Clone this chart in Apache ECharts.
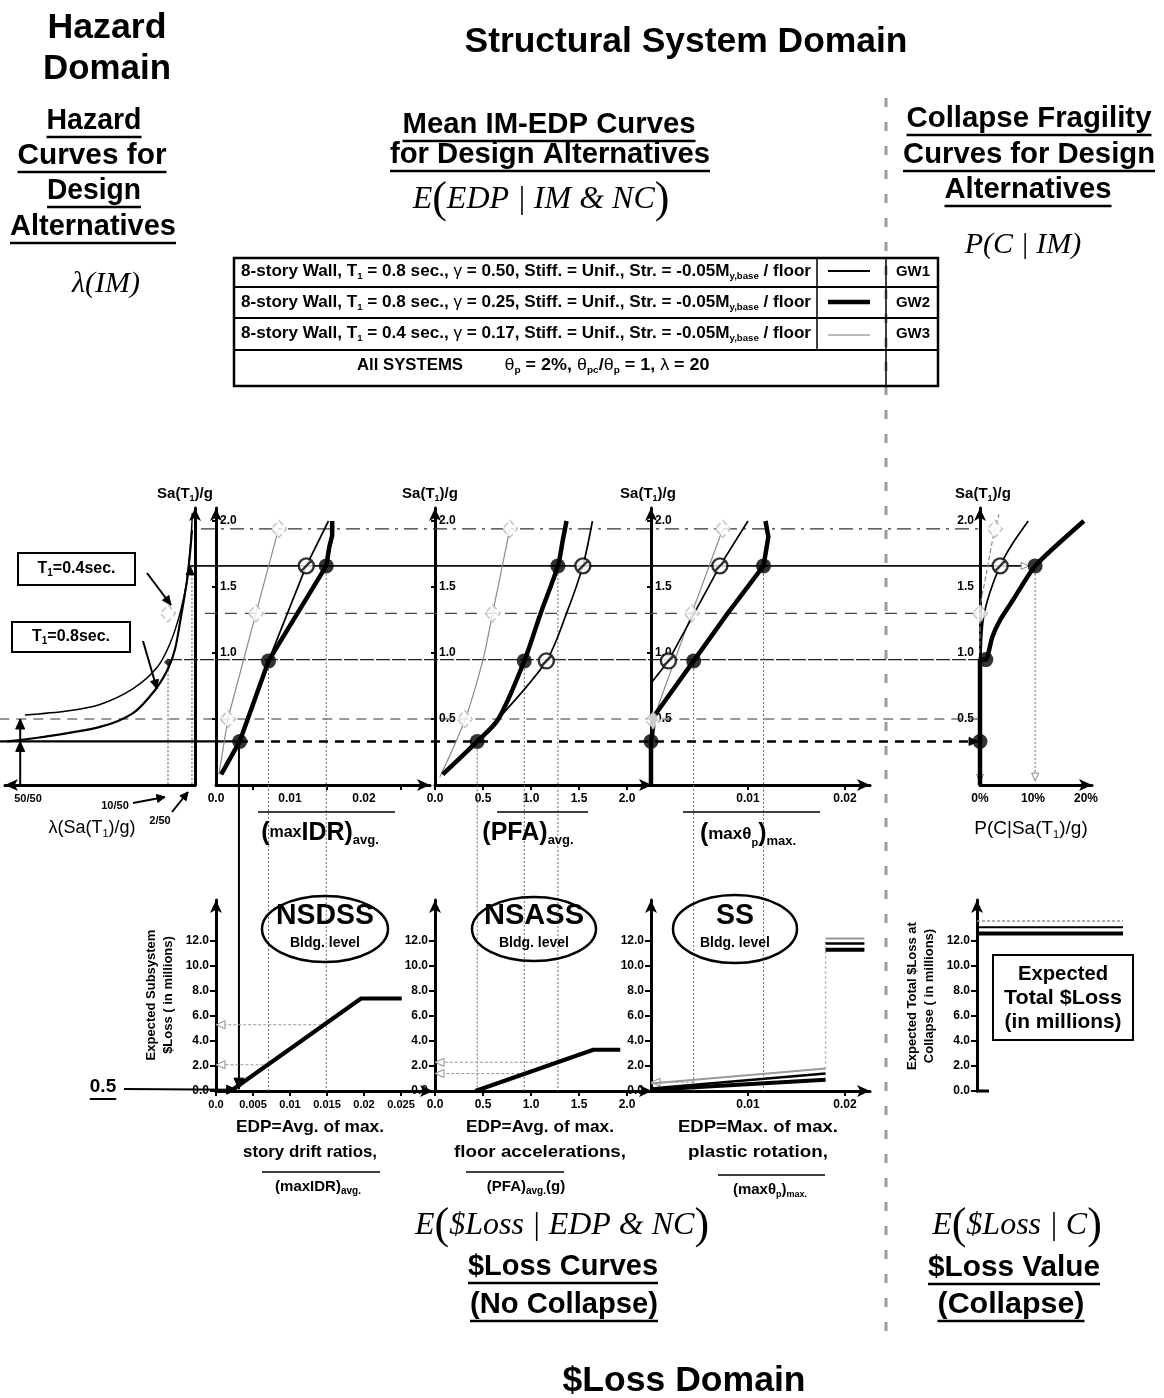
<!DOCTYPE html>
<html><head><meta charset="utf-8">
<script src="https://cdn.jsdelivr.net/npm/echarts@6/dist/echarts.min.js"></script>
<style>html,body{margin:0;padding:0;background:#fff}#c{width:1164px;height:1398px}</style>
</head><body><div id="c"></div>
<script>
// ================= DATA =================
// Hazard curves: x = normalised annual frequency lambda (0 at axis, 1 at far left), y = Sa(T1)/g
const hazT04 = [[0.895,0.53],[0.674,0.56],[0.5,0.61],[0.326,0.73],[0.2,0.89],[0.132,1.07],[0.079,1.30],[0.042,1.55],[0.021,1.86],[0.014,2.06]];
const hazT08 = [[0.99,0.33],[0.82,0.36],[0.5,0.44],[0.326,0.545],[0.21,0.72],[0.142,0.88],[0.105,1.03],[0.079,1.23],[0.042,1.55],[0.026,1.76],[0.016,1.93]];
const hazBlackPts = [[0.142,0.93]];
const hazGrayPts = [[0.142,1.30]];

// IM-EDP: (maxIDR)avg
const idrGW1 = [[0.0007,0.08],[0.0032,0.33],[0.0071,0.94],[0.0122,1.66],[0.0152,2.0]];
const idrGW2 = [[0.0007,0.08],[0.0032,0.33],[0.0071,0.94],[0.0149,1.66],[0.0153,1.80],[0.0157,1.89],[0.0157,2.0]];
const idrGW3 = [[0.0004,0.08],[0.0016,0.5],[0.0054,1.30],[0.0085,1.95]];
const idrGW1Pts = [[0.0122,1.66]];
const idrGW2Pts = [[0.0032,0.33],[0.0071,0.94],[0.0149,1.66]];
const idrGW3Pts = [[0.0016,0.5],[0.0054,1.30],[0.0085,1.94]];

// IM-EDP: (PFA)avg
const pfaGW1 = [[0.08,0.08],[0.44,0.33],[0.66,0.5],[1.16,0.94],[1.37,1.3],[1.54,1.66],[1.64,2.0]];
const pfaGW2 = [[0.08,0.08],[0.44,0.33],[0.66,0.5],[0.93,0.94],[1.10,1.3],[1.28,1.66],[1.33,1.85],[1.37,2.0]];
const pfaGW3 = [[0.05,0.06],[0.31,0.49],[0.50,0.95],[0.60,1.30],[0.78,1.94]];
const pfaGW1Pts = [[1.16,0.94],[1.54,1.66]];
const pfaGW2Pts = [[0.44,0.33],[0.93,0.94],[1.28,1.66]];
const pfaGW3Pts = [[0.31,0.5],[0.60,1.30],[0.78,1.94]];

// IM-EDP: (max theta_p)max
const thGW1 = [[0.0001,0.78],[0.0018,0.94],[0.0071,1.66],[0.0100,2.0]];
const thGW2 = [[0,0],[0,0.33],[0.0004,0.53],[0.0044,0.94],[0.0079,1.30],[0.0116,1.66],[0.0121,1.88],[0.0118,2.0]];
const thGW3 = [[0.0002,0.49],[0.0042,1.30],[0.0074,1.94]];
const thGW1Pts = [[0.0018,0.94],[0.0071,1.66]];
const thGW2Pts = [[0,0.33],[0.0044,0.94],[0.0116,1.66]];
const thGW3Pts = [[0.0002,0.49],[0.0042,1.30],[0.0074,1.94]];

// Collapse fragility: x = P(C|Sa) in %
const frGW1 = [[0.2,1.0],[0.6,1.25],[1.8,1.45],[3.8,1.66],[6.0,1.82],[9.1,2.0]];
const frGW2 = [[0,0],[0,0.95],[1.1,0.95],[2.3,1.12],[3.8,1.25],[6.2,1.40],[10.4,1.66],[19.6,2.0]];
const frGW3 = [[0,1.0],[0,1.3],[1.2,1.6],[2.8,1.94],[3.6,2.05]];
const frGW1Pts = [[3.8,1.66]];
const frGW2Pts = [[0,0.33],[1.1,0.95],[10.4,1.66]];
const frGW3Pts = [[0,1.30],[2.8,1.94]];

// $Loss curves (no collapse), loss in millions
const lossIDR = [[0.002,0],[0.0196,7.4],[0.0251,7.4]];
const lossPFA = [[0.42,0],[1.65,3.3],[1.93,3.3]];
const lossThGW1 = [[0,0.2],[0.018,1.4]];
const lossThGW2 = [[0,0.1],[0.018,0.9]];
const lossThGW3 = [[0,0.6],[0.018,1.8]];
const ssColGW1 = [[0.018,11.8],[0.022,11.8]];
const ssColGW2 = [[0.018,11.3],[0.022,11.3]];
const ssColGW3 = [[0.018,12.2],[0.022,12.2]];
const ssJump = [[0.018,1.8],[0.018,12.2]];
// $Loss value at collapse
const colGW1 = [[0,13.1],[1,13.1]];
const colGW2 = [[0,12.6],[1,12.6]];
const colGW3 = [[0,13.6],[1,13.6]];

// Guide levels
const saLevels = [0.33, 0.5, 0.95, 1.3, 1.66, 1.94];
const idrDrop = [0.0071, 0.0149], idrDropSa = [0.94, 1.66], idrLoss = [2.1, 5.3];
const pfaDrop = [0.44, 0.93, 1.28], pfaDropSa = [0.33, 0.94, 1.66], pfaLoss = [null, 1.4, 2.3];
const thDrop = [0.0044, 0.0116], thDropSa = [0.94, 1.66], thLoss = [0.7, null];
const fragDrop = 10.4;
const hazDrop = [0.142, 0.016], hazDropSa = [0.93, 1.66];
const idrStart = 0.0031;

// Tick labels
const idrTicks = [0, 0.01, 0.02], idrMinor = [0.005, 0.015, 0.025];
const pfaTicks = [0, 0.5, 1.0, 1.5, 2.0];
const thTicks = [0.01, 0.02];
const frTicks = [0, 10, 20];
const lossIdrTicks = [0, 0.005, 0.01, 0.015, 0.02, 0.025];
const saTicks = [0.5, 1.0, 1.5, 2.0];
const lossTicks = [0, 2, 4, 6, 8, 10, 12];

// ================= CHART =================
const FF = "'Liberation Sans', Arial, Helvetica, sans-serif";
const SERIF = "'Liberation Serif', 'Times New Roman', serif";
const chart = echarts.init(document.getElementById('c'), null, {renderer:'canvas', width:1164, height:1398});

const cv = document.createElement('canvas').getContext('2d');
function mw(t, f){ cv.font = f; return cv.measureText(t).width; }

const SA_MAX = 277/132, LOSS_MAX = 191/12.5;
const labStyle = {color:'#000', fontFamily:FF, fontWeight:'bold', fontSize:12};
function aLine(arrow, show){ return {show: show!==false, onZero:false, symbol: arrow||'none', symbolSize:[9,13], lineStyle:{color:'#000', width:3}}; }
const ARR = ['none','arrow'];
function ax(i, min, max, o){
  return Object.assign({type:'value', gridIndex:i, min, max, splitLine:{show:false}, axisLine:aLine(ARR),
    axisTick:{show:false}, axisLabel:{show:false}}, o||{});
}
function lab(vals, fmt, o){ return Object.assign({show:true, customValues:vals, formatter:fmt, margin:8}, labStyle, o||{}); }
function tick(vals, len){ return {show:true, customValues:vals, length:len||5, lineStyle:{color:'#000', width:2}}; }
const f1 = v => (+v).toFixed(1);

const grids = [
  {left:5,   top:508, width:190, height:277},
  {left:216, top:508, width:214, height:277},
  {left:435, top:508, width:217, height:277},
  {left:651, top:508, width:219, height:277},
  {left:980, top:508, width:112, height:277},
  {left:216, top:900, width:217, height:191},
  {left:435, top:900, width:217, height:191},
  {left:651, top:900, width:219, height:191},
  {left:977, top:900, width:146, height:191}
];

const xAxis = [
  ax(0, 0, 1, {inverse:true, axisLine:aLine(['arrow','none'])}),
  ax(1, 0, 214/7400, {axisLabel:lab(idrTicks, v=>v==0?'0.0':String(v)), axisTick:tick(idrMinor)}),
  ax(2, 0, 217/96, {axisLabel:lab(pfaTicks, f1), axisTick:tick(pfaTicks)}),
  ax(3, 0, 219/9700, {axisLabel:lab(thTicks, v=>String(v)), axisTick:tick(thTicks)}),
  ax(4, 0, 112/5.3, {axisLabel:lab(frTicks, v=>v+'%')}),
  ax(5, 0, 217/7400, {axisLabel:lab(lossIdrTicks, v=>v==0?'0.0':String(v), {fontSize:11}), axisTick:tick(lossIdrTicks)}),
  ax(6, 0, 217/96, {axisLabel:lab(pfaTicks, f1), axisTick:tick(pfaTicks)}),
  ax(7, 0, 219/9700, {axisLabel:lab(thTicks, v=>String(v)), axisTick:tick(thTicks)}),
  ax(8, 0, 1, {axisLine:aLine('none', false)})
];
const yAxis = [
  ax(0, 0, SA_MAX, {position:'right'}),
  ax(1, 0, SA_MAX, {axisLabel:lab([1.0,1.5,2.0], f1, {inside:true, margin:4}), axisTick:tick(saTicks, 4)}),
  ax(2, 0, SA_MAX, {axisLabel:lab(saTicks, f1, {inside:true, margin:4}), axisTick:tick(saTicks, 4)}),
  ax(3, 0, SA_MAX, {axisLabel:lab(saTicks, f1, {inside:true, margin:4}), axisTick:tick(saTicks, 4)}),
  ax(4, 0, SA_MAX, {axisLabel:lab(saTicks, f1, {margin:6})}),
  ax(5, 0, LOSS_MAX, {axisLabel:lab(lossTicks, f1, {margin:7}), axisTick:tick(lossTicks, 6)}),
  ax(6, 0, LOSS_MAX, {axisLabel:lab(lossTicks, f1, {margin:7}), axisTick:tick(lossTicks, 6)}),
  ax(7, 0, LOSS_MAX, {axisLabel:lab(lossTicks, f1, {margin:7}), axisTick:tick(lossTicks, 6)}),
  ax(8, 0, LOSS_MAX, {axisLabel:lab(lossTicks, f1, {margin:7}), axisTick:tick(lossTicks, 6)})
];

const S1 = {color:'#000', width:1.7};
const S2 = {color:'#000', width:4.5};
const S3 = {color:'#8a8a8a', width:1.2};
function ln(i, data, sty, o){
  return Object.assign({type:'line', xAxisIndex:i, yAxisIndex:i, data, symbol:'none', showSymbol:false,
    lineStyle:sty, silent:true, clip:false, z:3, animation:false}, o||{});
}
const SM = {smooth:0.3};
const SLASH = 'path://M50,4A46,46,0,1,1,49.9,4ZM20,80L80,20';
function pts(i, data, kind){
  const m = {
    1:{symbol:SLASH, symbolSize:15, itemStyle:{color:'#fff', borderColor:'#000', borderWidth:2.4}},
    2:{symbol:'circle', symbolSize:15, itemStyle:{color:'#000'}},
    3:{symbol:'diamond', symbolSize:[15,17], itemStyle:{color:'#fff', borderColor:'#b5b5b5', borderWidth:1.5, borderType:'dashed'}},
    4:{symbol:'diamond', symbolSize:8, itemStyle:{color:'#000'}}
  }[kind];
  return Object.assign({type:'scatter', xAxisIndex:i, yAxisIndex:i, data, silent:true, z:5, animation:false, clip:false}, m);
}

const series = [
  ln(0, hazT04, {color:'#000', width:1.5}, SM),
  ln(0, hazT08, {color:'#000', width:2.2}, SM),
  pts(0, hazBlackPts, 4), pts(0, hazGrayPts, 3),

  ln(1, idrGW3, S3), ln(1, idrGW1, S1), ln(1, idrGW2, S2),
  pts(1, idrGW3Pts, 3), pts(1, idrGW1Pts, 1), pts(1, idrGW2Pts, 2),

  ln(2, pfaGW3, S3, SM), ln(2, pfaGW1, S1, SM), ln(2, pfaGW2, S2, SM),
  pts(2, pfaGW3Pts, 3), pts(2, pfaGW1Pts, 1), pts(2, pfaGW2Pts, 2),

  ln(3, thGW3, S3), ln(3, thGW1, S1), ln(3, thGW2, S2),
  pts(3, thGW3Pts, 3), pts(3, thGW1Pts, 1), pts(3, thGW2Pts, 2),

  ln(4, frGW3, Object.assign({type:'dashed'}, S3), SM), ln(4, frGW1, S1, SM), ln(4, frGW2, S2, {smooth:0.2}),
  pts(4, frGW3Pts, 3), pts(4, frGW1Pts, 1), pts(4, frGW2Pts, 2),

  ln(5, lossIDR, {color:'#000', width:4}),
  ln(6, lossPFA, {color:'#000', width:4}),
  ln(7, lossThGW3, {color:'#999', width:2}), ln(7, lossThGW1, {color:'#000', width:2.5}), ln(7, lossThGW2, {color:'#000', width:4}),
  ln(7, ssJump, {color:'#aaa', width:1.5, type:[2,3]}),
  ln(7, ssColGW3, {color:'#999', width:2}), ln(7, ssColGW1, {color:'#000', width:2.5}), ln(7, ssColGW2, {color:'#000', width:4}),
  ln(8, colGW3, {color:'#999', width:1.5, type:[3,2]}), ln(8, colGW1, {color:'#000', width:2}), ln(8, colGW2, {color:'#000', width:4})
];

chart.setOption({animation:false, backgroundColor:'#fff', grid:grids, xAxis, yAxis, series});

// ================= ANNOTATIONS =================
const G = [];
const P = (i, x, y) => chart.convertToPixel({gridIndex:i}, [x, y]);
function L(p1, p2, st, z){ G.push({type:'line', silent:true, z:z==null?1:z, shape:{x1:p1[0], y1:p1[1], x2:p2[0], y2:p2[1]}, style:Object.assign({stroke:'#000', lineWidth:1}, st||{})}); }
function head(p1, p2, o){
  o = o||{}; const len=o.len||10, w=o.w||4.5;
  const dx=p2[0]-p1[0], dy=p2[1]-p1[1], d=Math.hypot(dx,dy)||1, ux=dx/d, uy=dy/d;
  const bx=p2[0]-ux*len, by=p2[1]-uy*len;
  G.push({type:'polygon', silent:true, z:o.z||2, shape:{points:[[p2[0],p2[1]],[bx-uy*w,by+ux*w],[bx+uy*w,by-ux*w]]},
    style:{fill:o.fill||'#000', stroke:o.stroke||'#000', lineWidth:o.lw||1}});
}
function arrow(p1, p2, st, o){ L(p1, p2, st, 2); head(p1, p2, o); }
function txt(text, cx, cy, font, o){
  o = o||{};
  const st = {text, fill:o.fill||'#000', align:o.align||'center', verticalAlign:'middle', textAlign:o.align||'center', textVerticalAlign:'middle'};
  if (font) st.font = font;
  if (o.rich) st.rich = o.rich;
  const el = {type:'text', x:cx, y:cy, silent:true, z:o.z||10, style:st};
  let w = o.mw!=null ? o.mw : mw(text, font);
  if (o.w){ el.scaleX = o.w / w; w = o.w; }
  if (o.rot) el.rotation = o.rot;
  G.push(el);
  if (o.ul) L([cx-w/2, cy+o.ul], [cx+w/2, cy+o.ul], {lineWidth:o.ulw||2.5}, 10);
}
function rich(parts, cx, cy, base, o){
  let s='', w=0; const r={};
  for (const k in base){ const b=base[k];
    r[k] = {fontSize:b.size, fontWeight:b.weight||'bold', fontStyle:b.style||'normal', fontFamily:b.family||FF,
      verticalAlign:b.sub?'bottom':'middle', fill:b.fill||'#000'};
    if (b.lh) r[k].lineHeight = b.lh;
  }
  parts.forEach(([t,k]) => { s += '{'+k+'|'+t+'}'; const b=base[k];
    w += mw(t, (b.style||'normal')+' '+(b.weight||'bold')+' '+b.size+'px '+(b.family||FF)); });
  txt(s, cx, cy, null, Object.assign({}, o||{}, {rich:r, mw:w}));
}
const B = s => 'bold '+s+'px '+FF;

// ---- headings ----
txt('Hazard', 107, 28, B(35), {w:119});
txt('Domain', 107, 69, B(35), {w:128});
txt('Structural System Domain', 686, 42, B(35), {w:443});
[['Hazard',94,121,95],['Curves for',92,156,149],['Design',94,191,94],['Alternatives',93,227,166]].forEach(a=>txt(a[0],a[1],a[2],B(30),{w:a[3],ul:16}));
txt('Mean IM-EDP Curves', 549, 125, B(30), {w:293, ul:16});
txt('for Design Alternatives', 550, 155, B(30), {w:320, ul:16});
txt('Collapse Fragility', 1029, 119, B(30), {w:245, ul:16});
txt('Curves for Design', 1029, 155, B(30), {w:252, ul:16});
txt('Alternatives', 1028, 190, B(30), {w:167, ul:16});
const IT = {size:32, weight:'normal', style:'italic', family:SERIF}, PAR = {size:44, weight:'normal', family:SERIF};
rich([['λ','it'],['(','it'],['IM','it'],[')','it']], 106, 284, {it:{size:30, weight:'normal', style:'italic', family:SERIF}});
rich([['E','it'],['(','p'],['EDP | IM & NC','it'],[')','p']], 541, 200, {it:IT, p:PAR});
rich([['P(C | IM)','it']], 1023, 245, {it:{size:30, weight:'normal', style:'italic', family:SERIF}});
rich([['E','it'],['(','p'],['$Loss | EDP & NC','it'],[')','p']], 562, 1226, {it:IT, p:PAR});
rich([['E','it'],['(','p'],['$Loss | C','it'],[')','p']], 1017, 1226, {it:IT, p:PAR});
txt('$Loss Curves', 563, 1267, B(30), {w:190, ul:16});
txt('(No Collapse)', 564, 1305, B(30), {w:188, ul:16});
txt('$Loss Value', 1014, 1268, B(30), {w:172, ul:16});
txt('(Collapse)', 1011, 1305, B(30), {w:147, ul:16});
txt('$Loss Domain', 684, 1381, B(35), {w:243});

// ---- separator ----
L([886, 98], [886, 1342], {stroke:'#9a9a9a', lineWidth:3, lineDash:[9,15]}, 0);

// ---- legend table ----
G.push({type:'rect', silent:true, z:8, shape:{x:234, y:258, width:704, height:128}, style:{fill:'none', stroke:'#000', lineWidth:2.5}});
[287, 318, 350].forEach(y => L([234,y],[938,y],{lineWidth:2},8));
L([817,258],[817,350],{lineWidth:1.5},8);
L([886,258],[886,386],{lineWidth:1.5},8);
const LB = {b:{size:16, lh:18}, s:{size:9, sub:true}, g:{size:16, weight:'normal', lh:18}, n:{size:16, weight:'normal', lh:18}};
const rowY = [272, 303, 334];
const rowT = ['0.8','0.8','0.4'], rowG = ['0.50','0.25','0.17'];
rowY.forEach((y,k) => {
  rich([['8-story Wall, T','b'],['1','s'],[' = '+rowT[k]+' sec., ','b'],['γ','g'],[' = '+rowG[k]+', Stiff. = Unif., Str. = -0.05M','b'],['y,base','s'],[' / floor','b']],
    526, y, LB, {w:570});
  txt('GW'+(k+1), 913, y, B(15));
});
L([828,271],[870,271],{lineWidth:1.8},9);
L([828,302],[870,302],{lineWidth:4.5},9);
L([828,335],[870,335],{lineWidth:1, stroke:'#777'},9);
txt('All SYSTEMS', 410, 366, B(16), {w:106});
rich([['θ','n'],['p','s'],[' = 2%, ','b'],['θ','n'],['pc','s'],['/','b'],['θ','n'],['p','s'],[' = 1, ','b'],['λ','n'],[' = 20','b']], 607, 366, LB, {w:205});

// ---- axis titles ----
const SAB = {b:{size:15, lh:18}, s:{size:9, sub:true}};
[185, 430, 648, 983].forEach(x => rich([['Sa(T','b'],['1','s'],[')/g','b']], x, 494, SAB));
const BIG = {B:{size:25, lh:28}, m:{size:16, lh:28}, s:{size:13, sub:true}, m2:{size:17, lh:28}, p:{size:11, sub:true}};
rich([['(','B'],['max','m'],['IDR)','B'],['avg.','s']], 320, 833, BIG);
L([258,812],[395,812],{lineWidth:1.5},10);
rich([['(PFA)','B'],['avg.','s']], 528, 833, BIG);
L([497,812],[588,812],{lineWidth:1.5},10);
rich([['(','B'],['maxθ','m2'],['p','p'],[')','B'],['max.','s']], 748, 834, BIG);
L([683,812],[820,812],{lineWidth:1.5},10);
rich([['P(C|Sa(T','n'],['1','s'],[')/g)','n']], 1031, 829, {n:{size:19, weight:'normal', lh:22}, s:{size:11, weight:'normal', sub:true}});
rich([['λ(Sa(T','n'],['1','s'],[')/g)','n']], 92, 828, {n:{size:18, weight:'normal', lh:22}, s:{size:11, weight:'normal', sub:true}});
txt('50/50', 28, 799, B(11));
txt('10/50', 115, 806, B(11));
txt('2/50', 160, 821, B(11));
arrow([133,803],[165,797],{lineWidth:2},{len:8,w:4});
arrow([172,812],[188,792],{lineWidth:2},{len:8,w:4});

// T1 boxes
[[18,553,117,32,'0.4'],[12,622,118,30,'0.8']].forEach(b => {
  G.push({type:'rect', silent:true, z:8, shape:{x:b[0], y:b[1], width:b[2], height:b[3]}, style:{fill:'#fff', stroke:'#000', lineWidth:2}});
  rich([['T','b'],['1','s'],['='+b[4]+'sec.','b']], b[0]+b[2]/2, b[1]+b[3]/2, {b:{size:16, lh:18}, s:{size:10, sub:true}});
});
arrow([147,573],[171,605],{lineWidth:2},{len:9,w:4});
arrow([143,641],[157,689],{lineWidth:2},{len:9,w:4});

// lower EDP labels
const EB = B(17);
txt('EDP=Avg. of max.', 310, 1127, EB, {w:148});
txt('story drift ratios,', 310, 1152, EB, {w:134});
rich([['(maxIDR)','b'],['avg.','s']], 318, 1187, {b:{size:15, lh:18}, s:{size:10, sub:true}});
L([262,1172],[380,1172],{lineWidth:1.5},10);
txt('EDP=Avg. of max.', 540, 1127, EB, {w:148});
txt('floor accelerations,', 540, 1152, EB, {w:172});
rich([['(PFA)','b'],['avg.','s'],['(g)','b']], 526, 1187, {b:{size:15, lh:18}, s:{size:10, sub:true}});
L([466,1172],[564,1172],{lineWidth:1.5},10);
txt('EDP=Max. of max.', 758, 1127, EB, {w:160});
txt('plastic rotation,', 758, 1152, EB, {w:140});
rich([['(maxθ','b'],['p','s'],[')','b'],['max.','s']], 770, 1190, {b:{size:15, lh:18}, s:{size:9, sub:true}});
L([718,1175],[825,1175],{lineWidth:1.5},10);

// rotated y titles
txt('Expected Subsystem', 151, 995, B(13), {rot:Math.PI/2});
txt('$Loss ( in millions)', 168, 995, B(13), {rot:Math.PI/2});
txt('Expected Total $Loss at', 912, 996, B(13), {rot:Math.PI/2});
txt('Collapse ( in millions)', 929, 996, B(13), {rot:Math.PI/2});
G.push({type:'rect', silent:true, z:8, shape:{x:993, y:955, width:140, height:85}, style:{fill:'#fff', stroke:'#000', lineWidth:2}});
txt('Expected', 1063, 974, B(21), {w:90});
txt('Total $Loss', 1063, 998, B(21), {w:118});
txt('(in millions)', 1063, 1022, B(21), {w:117});
// x axis stub of collapse panel
const c0 = P(8, 0, 0);
L([c0[0]-1, c0[1]], [c0[0]+12, c0[1]], {lineWidth:3}, 4);

// ellipses
[[325,'NSDSS',98,63,33],[534,'NSASS',100,62,32],[735,'SS',38,62,34]].forEach(e => {
  G.push({type:'ellipse', silent:true, z:6, shape:{cx:e[0], cy:929, rx:e[3], ry:e[4]}, style:{fill:'none', stroke:'#000', lineWidth:2.5}});
  txt(e[1], e[0], 916, B(29), {w:e[2]});
  txt('Bldg. level', e[0], 943, B(14));
});

// "0.5" marker
txt('0.5', 103, 1087, B(19), {ul:12, ulw:2});
arrow([124,1089], P(5, idrStart*0.9, 0.1), {lineWidth:2}, {len:10,w:4.5});

// ---- Sa guide lines across panels ----
const leftEdge = P(0, 1.03, 0)[0], fr0 = P(4, 0, 0)[0];
const Y = sa => P(1, 0, sa)[1];
L([leftEdge, Y(saLevels[0])], [P(1, idrStart, 0)[0], Y(saLevels[0])], {lineWidth:2.2}, 1);
arrow([P(1, idrStart, 0)[0], Y(saLevels[0])], [fr0-2, Y(saLevels[0])], {lineWidth:2.5, lineDash:[9,7]}, {len:9, w:4});
L([leftEdge, Y(saLevels[1])], [fr0, Y(saLevels[1])], {lineWidth:1, stroke:'#333', lineDash:[10,7]}, 1);
L([P(0, hazDrop[0], 0)[0], Y(saLevels[2])], [fr0, Y(saLevels[2])], {lineWidth:1.4, stroke:'#222', lineDash:[14,2]}, 1);
L([P(0, 0, 0)[0]+10, Y(saLevels[3])], [fr0, Y(saLevels[3])], {lineWidth:1.2, stroke:'#444', lineDash:[12,8]}, 1);
arrow([P(0, 0.026, 0)[0], Y(saLevels[4])], [P(4, fragDrop, 0)[0]-6, Y(saLevels[4])], {lineWidth:1.6, stroke:'#111'}, {len:8, w:3.5, fill:'#fff', stroke:'#888'});
L([P(0, 0, 0)[0]+6, Y(saLevels[5])], [fr0, Y(saLevels[5])], {lineWidth:1.1, stroke:'#333', lineDash:[14,6,3,6]}, 1);

// hazard verticals
hazDrop.forEach((x,k) => L(P(0, x, hazDropSa[k]), P(0, x, 0), {lineWidth:1, stroke:'#555', lineDash:[2,2]}, 1));
arrow(P(0, 0.92, 0), P(0, 0.92, saLevels[1]), {lineWidth:2}, {len:10, w:4.5});
head(P(0, 0.92, 0), P(0, 0.92, saLevels[0]), {len:10, w:4.5});
head([190, Y(1.66)+20], [190, Y(1.66)], {len:9, w:4});

// drop lines from IM-EDP points to the loss curves
const dot = {lineWidth:1, stroke:'#666', lineDash:[2,2]};
arrow(P(1, idrStart, saLevels[0]), [P(1, idrStart, 0)[0], P(5, 0, 0.15)[1]], {lineWidth:2}, {len:11, w:5});
idrDrop.forEach((x,k) => {
  L(P(1, x, idrDropSa[k]), P(5, x, 0), dot, 1);
  arrow(P(5, x, idrLoss[k]), P(5, 0, idrLoss[k]), {lineWidth:1.2, stroke:'#999', lineDash:[3,2]}, {len:9, w:4, fill:'#fff', stroke:'#888'});
});
pfaDrop.forEach((x,k) => {
  L(P(2, x, pfaDropSa[k]), P(6, x, 0), dot, 1);
  if (pfaLoss[k]!=null) arrow(P(6, x, pfaLoss[k]), P(6, 0, pfaLoss[k]), {lineWidth:1.2, stroke:'#999', lineDash:[3,2]}, {len:9, w:4, fill:'#fff', stroke:'#888'});
});
thDrop.forEach((x,k) => {
  L(P(3, x, thDropSa[k]), P(7, x, 0), dot, 1);
  if (thLoss[k]!=null) arrow(P(7, x, thLoss[k]), P(7, 0, thLoss[k]), {lineWidth:1.2, stroke:'#999', lineDash:[3,2]}, {len:9, w:4, fill:'#fff', stroke:'#888'});
});
arrow(P(4, fragDrop, saLevels[4]), P(4, fragDrop, 0.03), dot, {len:8, w:3.5, fill:'#fff', stroke:'#888'});
head(P(4, 0, 0.4), P(4, 0, 0.02), {len:8, w:3.5, fill:'#fff', stroke:'#888'});

chart.setOption({graphic:{elements:G}});
</script></body></html>
